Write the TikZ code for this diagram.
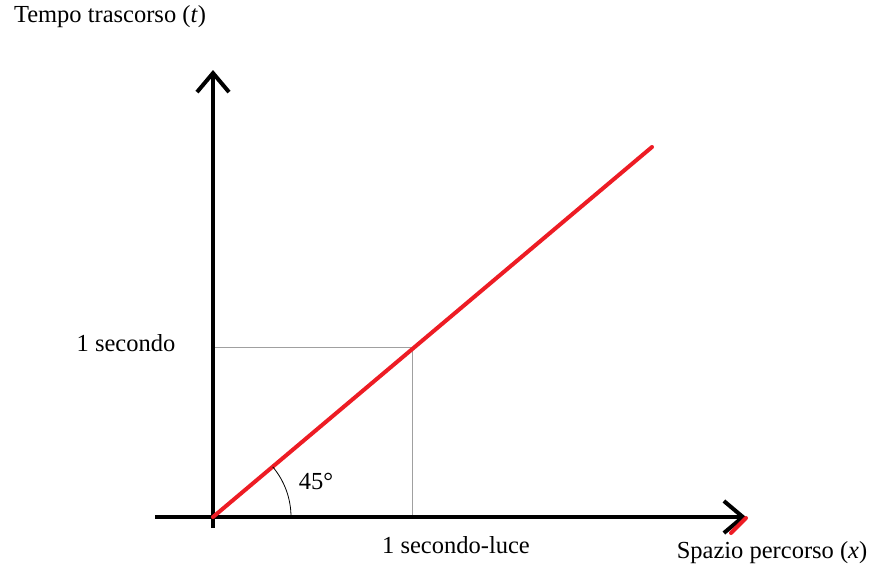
\documentclass[tikz,border=0pt]{standalone}
\usepackage{fontspec}
\setmainfont{Liberation Serif}
\usetikzlibrary{arrows.meta}
\definecolor{linered}{HTML}{ED1C24}
\definecolor{guidegray}{HTML}{A0A0A0}
\tikzset{
  axis/.style  ={line width=4pt,draw=black,-{Straight Barb[length=19pt,width=32pt,line width=4pt]}},
  ray/.style   ={line width=4pt,draw=linered,line cap=round},
  guide/.style ={line width=1pt,draw=guidegray},
  lbl/.style   ={font=\fontsize{24.5}{28}\selectfont,inner sep=0pt},
}

\begin{document}
\begin{tikzpicture}[x=1pt,y=-1pt]
  \useasboundingbox (0,0) rectangle (872,570);
  \coordinate (o) at (213,517);
  \coordinate (ybot) at (213,528);
  \coordinate (ytop) at (213,70);
  \coordinate (xleft) at (155,517);
  \coordinate (xright) at (746,517);
  \coordinate (rayend) at (652,147);
  \coordinate (p) at (412,347);
  \coordinate (px) at (412,517);
  \coordinate (pt) at (213,347);

  % guide lines
  \draw[guide] (pt) -- (p) -- (px);
  % axes
  \draw[axis] (ybot) -- (ytop);
  \draw[axis] (xleft) -- (xright);
  % light ray
  \draw[ray] (o) -- (rayend);
  \draw[ray] (746,518) -- (731,533);
  % angle
  \draw[line width=0.8pt] (o) ++(-40:78) arc[start angle=-40,end angle=0,radius=78];

  \node[lbl] (tlab) at (110,17) {Tempo trascorso (\textit{t})};
  \node[lbl] (xlab) at (772,553) {Spazio percorso (\textit{x})};
  \node[lbl] (one) at (126,343) {1 secondo};
  \node[lbl] (oneluce) at (456,545) {1 secondo-luce};
  \node[lbl] (ang) at (316,481) {45°};
\end{tikzpicture}
\end{document}
